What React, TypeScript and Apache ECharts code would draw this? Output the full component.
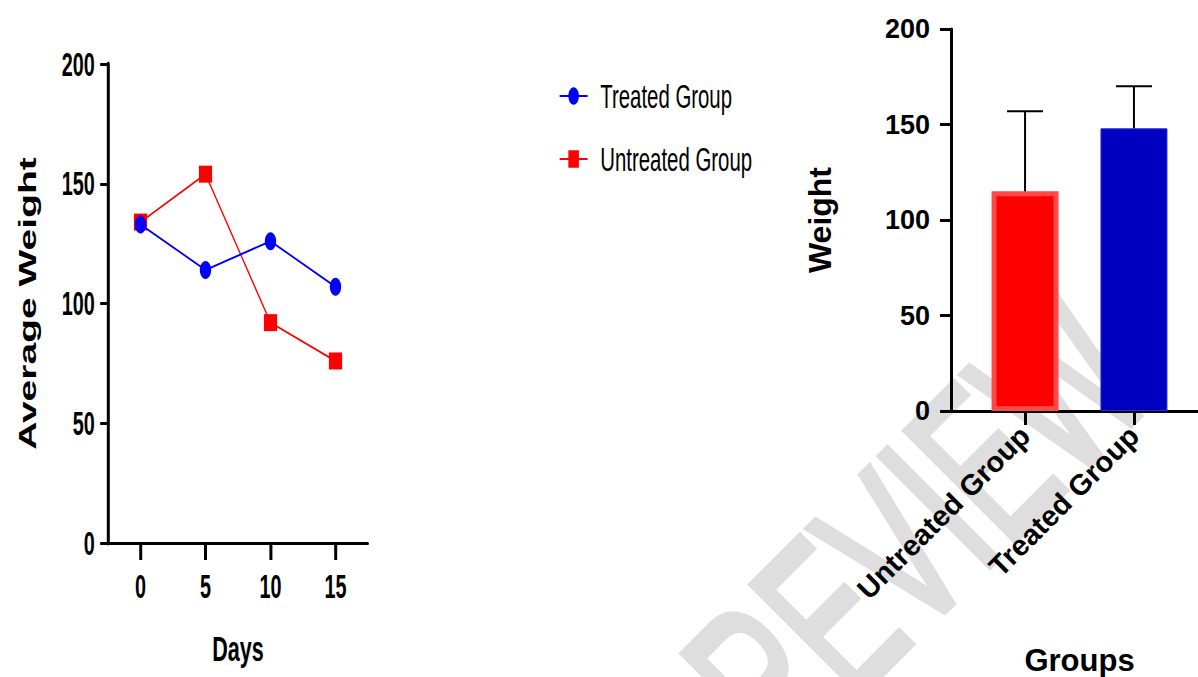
import React, { useEffect, useRef } from "react";
import * as echarts from "echarts";

// ---- data ----
const days = [0, 5, 10, 15];
const treatedWeights = [133, 114, 126, 107];
const untreatedWeights = [134, 154, 92, 76];

const groups = ["Untreated Group", "Treated Group"];
const groupMeans = [115, 148];
const groupSD = [42, 22];
const groupColors = ["#ff0000", "#0000c0"];
const groupBorders = ["#ff4848", "#2a2ad8"];

const yTickValues = [0, 50, 100, 150, 200];

const FONT = '"Liberation Sans", Arial, Helvetica, sans-serif';
const SQ = 0.6; // horizontal squash of the left panel

// watermark box (CSS-transformed layer)
const WM_W = 1200;
const WM_H = 300;
const WM_CX = 885;
const WM_CY = 560;

function buildLeftOption(): any {
  const lineTreated = days.map((d, i) => [d, treatedWeights[i]]);
  const lineUntreated = days.map((d, i) => [d, untreatedWeights[i]]);
  return {
    animation: false,
    grid: { left: 180, top: 64, width: 433.3, height: 479, outerBoundsMode: "none" },
    legend: {
      orient: "vertical",
      left: 926.7,
      top: 71,
      itemWidth: 46.7,
      itemHeight: 22,
      itemGap: 23,
      data: ["Treated Group", "Untreated Group"],
      textStyle: {
        fontFamily: FONT,
        fontSize: 34,
        color: "#000",
        lineHeight: 40,
        padding: [0, 0, 0, 16],
      },
    },
    xAxis: {
      type: "value",
      min: -2.5,
      max: 17.5,
      name: "Days",
      nameLocation: "middle",
      nameGap: 87,
      nameTextStyle: { fontFamily: FONT, fontSize: 36, fontWeight: "bold", color: "#000" },
      splitLine: { show: false },
      axisLine: { show: true, onZero: false, lineStyle: { color: "#000", width: 3 } },
      axisTick: { show: true, customValues: days, length: 17, lineStyle: { color: "#000", width: 5 } },
      axisLabel: {
        customValues: days,
        margin: 27,
        fontFamily: FONT,
        fontSize: 33,
        fontWeight: "bold",
        color: "#000",
      },
    },
    yAxis: {
      type: "value",
      min: 0,
      max: 200,
      interval: 50,
      name: "Average Weight",
      nameLocation: "middle",
      nameGap: 114,
      nameTextStyle: { fontFamily: FONT, fontSize: 39, fontWeight: "bold", color: "#000" },
      splitLine: { show: false },
      axisLine: { show: true, onZero: false, lineStyle: { color: "#000", width: 5 } },
      axisTick: { show: true, length: 13, lineStyle: { color: "#000", width: 3 } },
      axisLabel: {
        margin: 22,
        fontFamily: FONT,
        fontSize: 33,
        fontWeight: "bold",
        color: "#000",
      },
    },
    series: [
      {
        name: "Treated Group",
        type: "line",
        data: lineTreated,
        symbol: "circle",
        symbolSize: [19, 18],
        color: "#0000ff",
        lineStyle: { color: "#0000ff", width: 2 },
        itemStyle: { color: "#0000ff" },
        z: 3,
      },
      {
        name: "Untreated Group",
        type: "line",
        data: lineUntreated,
        symbol: "rect",
        symbolSize: [22, 17],
        color: "#ff0000",
        lineStyle: { color: "#ff0000", width: 2 },
        itemStyle: { color: "#ff0000" },
        z: 2,
      },
    ],
  };
}

function buildWatermarkOption(): any {
  return {
    animation: false,
    graphic: [
      {
        type: "text",
        x: WM_W / 2,
        y: WM_H / 2,
        silent: true,
        style: {
          text: "PREVIEW",
          fontFamily: FONT,
          fontSize: 225,
          fill: "#dedede",
          stroke: "#dedede",
          lineWidth: 7,
          lineJoin: "round",
          textAlign: "center",
          align: "center",
          textVerticalAlign: "middle",
          verticalAlign: "middle",
        },
      },
    ],
  };
}

function buildRightOption(): any {
  const barData = groups.map((g, i) => ({
    value: [i, groupMeans[i]],
    itemStyle: { color: groupColors[i], borderColor: groupBorders[i], borderWidth: i === 0 ? 5 : 1 },
  }));
  const errData = groups.map((g, i) => [i, groupMeans[i], groupSD[i]]);
  return {
    animation: false,
    grid: { left: 951, top: 29, height: 382, right: -10, outerBoundsMode: "none" },
    xAxis: {
      type: "value",
      min: -0.68,
      max: 1.68,
      name: "Groups",
      nameLocation: "middle",
      nameGap: 234,
      nameTextStyle: { fontFamily: FONT, fontSize: 31, fontWeight: "bold", color: "#000" },
      splitLine: { show: false },
      axisLine: { show: true, onZero: false, lineStyle: { color: "#000", width: 3 } },
      axisTick: { show: true, customValues: [0, 1], length: 14, lineStyle: { color: "#000", width: 3 } },
      axisLabel: {
        customValues: [0, 1],
        rotate: 45,
        margin: 20,
        formatter: (v: number) => groups[Math.round(v)] ?? "",
        fontFamily: FONT,
        fontSize: 29,
        fontWeight: "bold",
        color: "#000",
      },
    },
    yAxis: {
      type: "value",
      min: 0,
      max: 200,
      interval: 50,
      name: "Weight",
      nameLocation: "middle",
      nameGap: 115,
      nameTextStyle: { fontFamily: FONT, fontSize: 32, fontWeight: "bold", color: "#000" },
      splitLine: { show: false },
      axisLine: { show: true, onZero: false, lineStyle: { color: "#000", width: 3 } },
      axisTick: { show: true, length: 11, lineStyle: { color: "#000", width: 3 } },
      axisLabel: {
        customValues: yTickValues,
        margin: 21,
        fontFamily: FONT,
        fontSize: 27,
        fontWeight: "bold",
        color: "#000",
      },
    },
    series: [
      {
        type: "bar",
        data: barData,
        barWidth: 67,
        z: 2,
      },
      {
        type: "custom",
        data: errData,
        z: 3,
        renderItem: (params: any, api: any) => {
          const x = api.value(0);
          const m = api.value(1);
          const sd = api.value(2);
          const p0 = api.coord([x, m]);
          const p1 = api.coord([x, m + sd]);
          const half = 18;
          const style = { stroke: "#000", lineWidth: 2, fill: null };
          return {
            type: "group",
            children: [
              { type: "line", shape: { x1: p0[0], y1: p0[1], x2: p1[0], y2: p1[1] }, style },
              { type: "line", shape: { x1: p1[0] - half, y1: p1[1], x2: p1[0] + half, y2: p1[1] }, style },
            ],
          };
        },
      },
    ],
  };
}

export default function App() {
  const wmRef = useRef<HTMLDivElement>(null);
  const leftRef = useRef<HTMLDivElement>(null);
  const rightRef = useRef<HTMLDivElement>(null);

  useEffect(() => {
    const wm = echarts.init(wmRef.current!, null, { renderer: "svg" });
    wm.setOption(buildWatermarkOption());
    const right = echarts.init(rightRef.current!, null, { renderer: "svg" });
    right.setOption(buildRightOption());
    const left = echarts.init(leftRef.current!, null, { renderer: "svg" });
    left.setOption(buildLeftOption());
    return () => {
      left.dispose();
      right.dispose();
      wm.dispose();
    };
  }, []);

  return (
    <div
      style={{
        position: "fixed",
        left: 0,
        top: 0,
        width: 1198,
        height: 677,
        overflow: "hidden",
        background: "#fff",
      }}
    >
      <div
        ref={wmRef}
        style={{
          position: "absolute",
          left: WM_CX - WM_W / 2,
          top: WM_CY - WM_H / 2,
          width: WM_W,
          height: WM_H,
          transform: "rotate(-45deg) scaleX(0.6)",
          transformOrigin: `${WM_W / 2}px ${WM_H / 2}px`,
        }}
      />
      <div ref={rightRef} style={{ position: "absolute", left: 0, top: 0, width: 1198, height: 677 }} />
      <div
        ref={leftRef}
        style={{
          position: "absolute",
          left: 0,
          top: 0,
          width: Math.round(800 / SQ),
          height: 677,
          transform: `scaleX(${SQ})`,
          transformOrigin: "0 0",
        }}
      />
    </div>
  );
}
